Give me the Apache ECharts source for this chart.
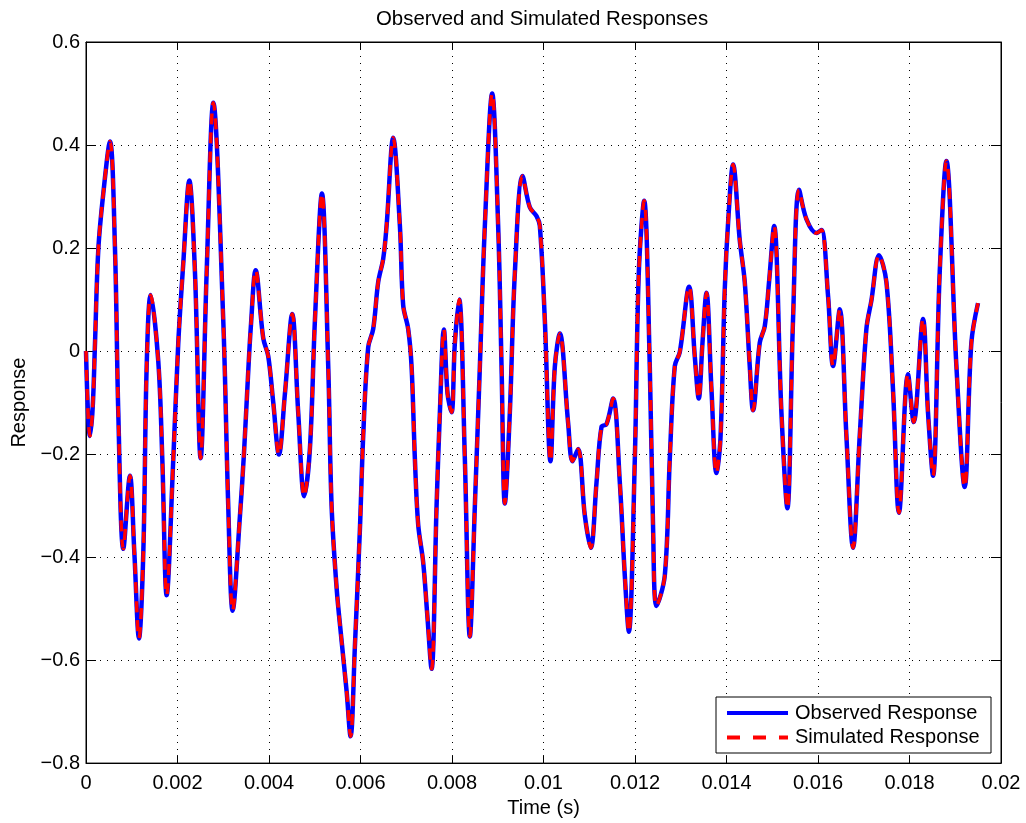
<!DOCTYPE html>
<html>
<head>
<meta charset="utf-8">
<title>Observed and Simulated Responses</title>
<script src="https://cdn.jsdelivr.net/npm/echarts@6/dist/echarts.min.js"></script>
<style>
  html, body { margin: 0; padding: 0; background: #fff; }
  #chart { width: 1026px; height: 823px; }
</style>
</head>
<body>
<div id="chart"></div>
<script>
// time (s) at the turning points and along the slopes
var timeSec = [
  0.0000, 0.000044, 0.000087, 0.000146, 0.000197, 0.000269, 0.000378, 0.000524,
  0.000634, 0.000706, 0.000816, 0.000961, 0.001056, 0.001158, 0.001253, 0.001326,
  0.001413, 0.00158, 0.001668, 0.001763, 0.001908, 0.002017, 0.002126, 0.002258,
  0.002382, 0.002506, 0.002637, 0.002783, 0.003000, 0.003109, 0.003205, 0.003365,
  0.003452, 0.003540, 0.003605, 0.003708, 0.003874, 0.003983, 0.004093, 0.004217,
  0.004348, 0.004508, 0.004639, 0.004770, 0.004894, 0.005004, 0.005157, 0.005295,
  0.005368, 0.005478, 0.005587, 0.005696, 0.005783, 0.005878, 0.005987, 0.006059,
  0.006168, 0.006278, 0.006387, 0.006496, 0.006570, 0.006715, 0.006861, 0.006933,
  0.007042, 0.007116, 0.007189, 0.007261, 0.007370, 0.007458, 0.007553, 0.007663,
  0.007735, 0.007822, 0.007903, 0.007990, 0.008063, 0.008157, 0.008281, 0.008390,
  0.008500, 0.008609, 0.008718, 0.008878, 0.009009, 0.009083, 0.009155, 0.009264,
  0.009374, 0.009542, 0.009701, 0.009848, 0.009920, 0.010029, 0.010153, 0.010248,
  0.010357, 0.010539, 0.010634, 0.010757, 0.010903, 0.011034, 0.011159, 0.011268,
  0.011377, 0.011522, 0.011668, 0.011777, 0.011865, 0.011996, 0.012083, 0.012200,
  0.012323, 0.012396, 0.012470, 0.012651, 0.012760, 0.012870, 0.012979, 0.013182,
  0.013307, 0.013394, 0.013475, 0.013562, 0.013671, 0.013780, 0.013868, 0.013962,
  0.014042, 0.014144, 0.014290, 0.014399, 0.014508, 0.014580, 0.014727, 0.014836,
  0.014930, 0.015040, 0.015201, 0.015330, 0.015454, 0.015586, 0.015747, 0.015966,
  0.016075, 0.016220, 0.016330, 0.016475, 0.016621, 0.016766, 0.016912, 0.017058,
  0.017167, 0.017333, 0.017495, 0.017639, 0.017770, 0.017967, 0.018092, 0.018295,
  0.018405, 0.018514, 0.018660, 0.018806, 0.019025, 0.019206, 0.019352, 0.019497
];

var observedResponse = [
  0.000, -0.120, -0.165, -0.110, 0.016, 0.197, 0.306, 0.407,
  0.197, -0.120, -0.384, -0.242, -0.390, -0.558, -0.390, -0.030,
  0.109, -0.020, -0.210, -0.474, -0.210, 0.016, 0.170, 0.331,
  0.152, -0.208, 0.152, 0.482, 0.060, -0.300, -0.504, -0.320,
  -0.200, -0.050, 0.050, 0.157, 0.025, -0.010, -0.100, -0.201,
  -0.083, 0.072, -0.120, -0.282, -0.190, 0.060, 0.306, -0.030,
  -0.300, -0.460, -0.563, -0.660, -0.748, -0.572, -0.346, -0.165,
  0.007, 0.043, 0.134, 0.179, 0.243, 0.414, 0.243, 0.089,
  0.043, -0.030, -0.210, -0.337, -0.410, -0.510, -0.617, -0.300,
  -0.120, 0.042, -0.083, -0.119, 0.016, 0.100, -0.210, -0.554,
  -0.300, -0.030, 0.243, 0.500, 0.243, -0.030, -0.296, -0.120,
  0.152, 0.340, 0.279, 0.262, 0.243, 0.060, -0.214, -0.030,
  0.034, -0.140, -0.214, -0.190, -0.319, -0.382, -0.255, -0.147,
  -0.142, -0.092, -0.255, -0.436, -0.545, -0.210, 0.152, 0.292,
  -0.029, -0.346, -0.495, -0.436, -0.210, -0.029, -0.002, 0.125,
  -0.011, -0.092, 0.016, 0.113, -0.074, -0.237, -0.170, 0.120,
  0.260, 0.362, 0.215, 0.134, -0.029, -0.115, 0.016, 0.048,
  0.134, 0.243, -0.120, -0.305, 0.060, 0.313, 0.256, 0.229,
  0.235, 0.107, -0.029, 0.081, -0.165, -0.382, -0.165, 0.043,
  0.098, 0.186, 0.134, -0.074, -0.314, -0.045, -0.138, 0.062,
  -0.120, -0.242, 0.152, 0.369, -0.029, -0.264, 0.016, 0.093
];

// the simulated trace lies right on top of the observed one in the picture
var simulatedResponse = observedResponse;

var seriesNames = ['Observed Response', 'Simulated Response'];

var xTicks = { min: 0, max: 0.02, step: 0.002 };
var yTicks = { min: -0.8, max: 0.6, step: 0.2 };

var font = "'Liberation Sans', Arial, Helvetica, sans-serif";
var blue = '#0000ff', red = '#ff0000';
var redDash = [11, 8];

function pairs(xs, ys) {
  return xs.map(function (x, i) { return [x, ys[i]]; });
}

var chart = echarts.init(document.getElementById('chart'), null, { renderer: 'canvas' });

var gridDots = { show: true, lineStyle: { color: '#000', width: 1, type: [1, 6] } };
var plainAxisLine = { show: true, onZero: false, lineStyle: { color: '#000', width: 1 } };

// legend box drawn by hand so the samples look like the MATLAB ones
var lgX = 716, lgY = 697, lgW = 275, lgH = 56;
var legendGraphic = [
  { type: 'rect', shape: { x: lgX, y: lgY, width: lgW, height: lgH },
    style: { fill: '#fff', stroke: '#000', lineWidth: 1 }, z: 100 },
  { type: 'line', shape: { x1: lgX + 11, y1: lgY + 16, x2: lgX + 72, y2: lgY + 16 },
    style: { stroke: blue, lineWidth: 4 }, z: 101 },
  { type: 'line', shape: { x1: lgX + 11, y1: lgY + 40.5, x2: lgX + 72, y2: lgY + 40.5 },
    style: { stroke: red, lineWidth: 4, lineDash: [13, 13] }, z: 101 },
  { type: 'text', x: lgX + 79, y: lgY + 16, z: 101,
    style: { text: seriesNames[0], fill: '#000', font: '20px ' + font, verticalAlign: 'middle' } },
  { type: 'text', x: lgX + 79, y: lgY + 40.5, z: 101,
    style: { text: seriesNames[1], fill: '#000', font: '20px ' + font, verticalAlign: 'middle' } }
];

chart.setOption({
  animation: false,
  backgroundColor: '#fff',
  textStyle: { fontFamily: font },
  title: {
    text: 'Observed and Simulated Responses',
    left: 376,
    top: 9,
    padding: 0,
    textStyle: { fontFamily: font, fontSize: 20.4, fontWeight: 'normal', color: '#000' }
  },
  graphic: legendGraphic,
  grid: { left: 86, right: 25, top: 42, bottom: 59, show: true, borderColor: '#000', borderWidth: 1 },
  xAxis: [{
    type: 'value',
    min: xTicks.min, max: xTicks.max, interval: xTicks.step,
    name: 'Time (s)', nameLocation: 'middle', nameGap: 30,
    nameTextStyle: { fontFamily: font, fontSize: 20, color: '#000' },
    axisLine: plainAxisLine,
    axisTick: { show: true, inside: true, length: 8, lineStyle: { color: '#000' } },
    axisLabel: {
      fontFamily: font, fontSize: 20, color: '#000', margin: 10,
      formatter: function (v) { return String(+v.toFixed(3)); }
    },
    splitLine: gridDots
  }, {
    type: 'value', position: 'top',
    min: xTicks.min, max: xTicks.max, interval: xTicks.step,
    axisLine: plainAxisLine,
    axisTick: { show: true, inside: true, length: 8, lineStyle: { color: '#000' } },
    axisLabel: { show: false },
    splitLine: { show: false }
  }],
  yAxis: [{
    type: 'value',
    min: yTicks.min, max: yTicks.max, interval: yTicks.step,
    name: 'Response', nameLocation: 'middle', nameGap: 56, nameRotate: 90,
    nameTextStyle: { fontFamily: font, fontSize: 20, color: '#000' },
    axisLine: plainAxisLine,
    axisTick: { show: true, inside: true, length: 10, lineStyle: { color: '#000' } },
    axisLabel: {
      fontFamily: font, fontSize: 20, color: '#000', margin: 6,
      formatter: function (v) { return String(+v.toFixed(1)).replace('-', '\u2212'); }
    },
    splitLine: gridDots
  }, {
    type: 'value', position: 'right',
    min: yTicks.min, max: yTicks.max, interval: yTicks.step,
    axisLine: plainAxisLine,
    axisTick: { show: true, inside: true, length: 10, lineStyle: { color: '#000' } },
    axisLabel: { show: false },
    splitLine: { show: false }
  }],
  series: [{
    name: seriesNames[0],
    type: 'line',
    data: pairs(timeSec, observedResponse),
    smooth: 0.35,
    showSymbol: false,
    symbol: 'none',
    itemStyle: { color: blue },
    lineStyle: { color: blue, width: 4.5, type: 'solid' }
  }, {
    name: seriesNames[1],
    type: 'line',
    data: pairs(timeSec, simulatedResponse),
    smooth: 0.35,
    showSymbol: false,
    symbol: 'none',
    itemStyle: { color: red },
    lineStyle: { color: red, width: 3.5, type: redDash }
  }]
});
</script>
</body>
</html>
